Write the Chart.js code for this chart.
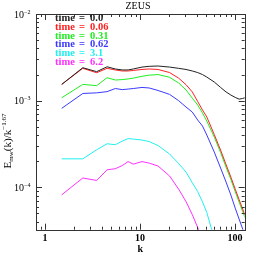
<!DOCTYPE html>
<html>
<head>
<meta charset="utf-8">
<script src="https://cdn.jsdelivr.net/npm/chart.js@4/dist/chart.umd.min.js"></script>
<style>
  body { margin: 0; background: #fff; }
  canvas { display: block; }
</style>
</head>
<body>
<canvas id="spectrum" width="258" height="258"></canvas>
<script>
// wavenumbers sampled from the spectra
const kValues = [1.5, 2.5, 3.5, 4.5, 5.5, 6.5, 7.5, 8.5, 10.5, 12.5, 15.5, 20.5, 25.5, 30.5, 35.5, 40.5, 45.5, 50.5, 60.5, 70.5, 80.5, 90.5, 100.5, 110.5, 120.5, 127.5];

const times = ["0.0", "0.06", "0.31", "0.62", "3.1", "6.2"];
const colors = ["#222222", "#ff2020", "#20ee20", "#3a3aff", "#20f0f0", "#ff30ff"];

const spec00 = [1.54e-3, 2.40e-3, 2.16e-3, 2.46e-3, 2.32e-3, 2.26e-3, 2.26e-3, 2.32e-3, 2.44e-3, 2.49e-3, 2.51e-3, 2.44e-3, 2.36e-3, 2.29e-3, 2.20e-3, 2.11e-3, 2.00e-3, 1.87e-3, 1.64e-3, 1.42e-3, 1.26e-3, 1.16e-3, 1.09e-3, 1.04e-3, 1.06e-3, 1.08e-3];
const spec006 = [1.54e-3, 2.36e-3, 2.10e-3, 2.36e-3, 2.26e-3, 2.20e-3, 2.20e-3, 2.23e-3, 2.29e-3, 2.32e-3, 2.29e-3, 2.11e-3, 1.82e-3, 1.53e-3, 1.26e-3, 9.77e-4, 7.79e-4, 6.47e-4, 4.06e-4, 2.69e-4, 1.83e-4, 1.31e-4, 9.53e-5, 7.21e-5, 5.60e-5, 4.77e-5];
const spec031 = [1.08e-3, 1.54e-3, 1.49e-3, 1.84e-3, 1.73e-3, 1.75e-3, 1.78e-3, 1.82e-3, 1.91e-3, 1.97e-3, 2.00e-3, 1.86e-3, 1.60e-3, 1.33e-3, 1.07e-3, 8.90e-4, 7.19e-4, 5.81e-4, 3.80e-4, 2.52e-4, 1.71e-4, 1.23e-4, 8.92e-5, 6.75e-5, 5.24e-5, 4.47e-5];
const spec062 = [8.15e-4, 1.21e-3, 1.23e-3, 1.27e-3, 1.38e-3, 1.34e-3, 1.36e-3, 1.38e-3, 1.42e-3, 1.40e-3, 1.31e-3, 1.18e-3, 1.00e-3, 8.44e-4, 7.39e-4, 5.97e-4, 5.09e-4, 4.01e-4, 2.55e-4, 1.67e-4, 1.15e-4, 8.13e-5, 5.75e-5, 4.30e-5, 3.29e-5, 2.73e-5];
const spec31 = [2.13e-4, 2.13e-4, 2.71e-4, 3.18e-4, 3.10e-4, 3.41e-4, 3.65e-4, 3.60e-4, 3.51e-4, 3.37e-4, 3.03e-4, 2.42e-4, 1.88e-4, 1.50e-4, 1.13e-4, 8.92e-5, 6.78e-5, 5.11e-5, 2.56e-5, 1.44e-5, null, null, null, null, null, null];
const spec62 = [8.19e-5, 1.28e-4, 1.20e-4, 1.59e-4, 1.64e-4, 1.78e-4, 1.98e-4, 1.85e-4, 1.98e-4, 1.90e-4, 1.76e-4, 1.35e-4, 9.53e-5, 6.84e-5, 4.84e-5, 3.43e-5, 2.46e-5, 1.79e-5, null, null, null, null, null, null, null, null];

const allSpectra = [spec00, spec006, spec031, spec062, spec31, spec62];

// axis ranges and tick labels
const xMin = 0.804, xMax = 126.5;
const yMin = 3.24e-5, yMax = 1e-2;
const xMajor = [1, 10, 100];
const xMajorLabels = ["1", "10", "100"];
const yMajor = [1e-2, 1e-3, 1e-4];
const yExponents = ["\u22122", "\u22123", "\u22124"];

const SERIF = '"Liberation Serif", "DejaVu Serif", serif';

const datasets = allSpectra.map(function(spec, i) {
    return {
        label: "time = " + times[i],
        data: kValues.map(function(k, j) { return { x: k, y: spec[j] }; }),
        borderColor: colors[i],
        borderWidth: 1,
        pointRadius: 0,
        tension: 0,
        spanGaps: false
    };
});

// frame, inward ticks, labels, legend text
const framePlugin = {
    id: "frame",
    afterDraw: function(chart) {
        const ctx = chart.ctx;
        const a = chart.chartArea;
        const xs = chart.scales.x;
        const ys = chart.scales.y;
        ctx.save();
        ctx.strokeStyle = "#333";
        ctx.lineWidth = 1;
        ctx.strokeRect(Math.round(a.left) + 0.5, Math.round(a.top) + 0.5,
            Math.round(a.right - a.left), Math.round(a.bottom - a.top));

        ctx.beginPath();
        // x ticks
        for (let d = 0.1; d <= 100; d *= 10) {
            for (let m = 1; m <= 9; m++) {
                const v = d * m;
                if (v < xMin || v > xMax) continue;
                const px = Math.round(xs.getPixelForValue(v)) + 0.5;
                const len = m === 1 ? 6 : 3;
                ctx.moveTo(px, a.bottom); ctx.lineTo(px, a.bottom - len);
                ctx.moveTo(px, a.top); ctx.lineTo(px, a.top + len);
            }
        }
        // y ticks
        for (let d = 1e-5; d <= 1e-2; d *= 10) {
            for (let m = 1; m <= 9; m++) {
                const v = d * m;
                if (v < yMin || v > yMax * 1.001) continue;
                const py = Math.round(ys.getPixelForValue(v)) + 0.5;
                const len = m === 1 ? 6 : 3;
                ctx.moveTo(a.left, py); ctx.lineTo(a.left + len, py);
                ctx.moveTo(a.right, py); ctx.lineTo(a.right - len, py);
            }
        }
        ctx.stroke();

        ctx.fillStyle = "#000";
        // x tick labels
        ctx.font = "bold 10px " + SERIF;
        ctx.textAlign = "center";
        ctx.textBaseline = "middle";
        xMajor.forEach(function(v, i) {
            ctx.fillText(xMajorLabels[i], xs.getPixelForValue(v), a.bottom + 9);
        });
        ctx.fillText("k", (a.left + a.right) / 2, a.bottom + 20);

        // y tick labels 10^-n
        yMajor.forEach(function(v, i) {
            const py = ys.getPixelForValue(v);
            ctx.font = "10px " + SERIF;
            ctx.textAlign = "left";
            ctx.fillText("10", 14, py + 1);
            ctx.font = "6px " + SERIF;
            ctx.fillText(yExponents[i], 24, py - 2);
        });

        // title
        ctx.font = "10px " + SERIF;
        ctx.textAlign = "center";
        ctx.fillText("ZEUS", 138, 6);

        // y axis title, rotated
        ctx.save();
        ctx.translate(8, 141);
        ctx.rotate(-Math.PI / 2);
        const parts = [
            ["E", "11px", 0],
            ["mw", "7px", 3],
            ["(k)/k", "11px", 0],
            ["\u22121.67", "7px", -3.5]
        ];
        let total = 0;
        parts.forEach(function(p) { ctx.font = p[1] + " " + SERIF; total += ctx.measureText(p[0]).width; });
        let cx = -total / 2;
        ctx.textAlign = "left";
        parts.forEach(function(p) {
            ctx.font = p[1] + " " + SERIF;
            ctx.fillText(p[0], cx, p[2]);
            cx += ctx.measureText(p[0]).width;
        });
        ctx.restore();

        // legend as coloured text
        ctx.font = "bold 10.5px " + SERIF;
        ctx.textAlign = "left";
        times.forEach(function(t, i) {
            const py = 18 + i * 8.9;
            ctx.fillStyle = colors[i];
            ctx.fillText("time", 55, py);
            ctx.fillText("=", 79, py);
            ctx.fillText(t, 90, py);
        });
        ctx.restore();
    }
};

new Chart(document.getElementById("spectrum").getContext("2d"), {
    type: "line",
    data: { datasets: datasets },
    options: {
        responsive: false,
        animation: false,
        layout: { padding: { left: 36, top: 14, right: 13.3, bottom: 28.3 } },
        plugins: {
            legend: { display: false },
            tooltip: { enabled: false }
        },
        scales: {
            x: { type: "logarithmic", min: xMin, max: xMax, display: false },
            y: { type: "logarithmic", min: yMin, max: yMax, display: false }
        }
    },
    plugins: [framePlugin]
});
</script>
</body>
</html>
